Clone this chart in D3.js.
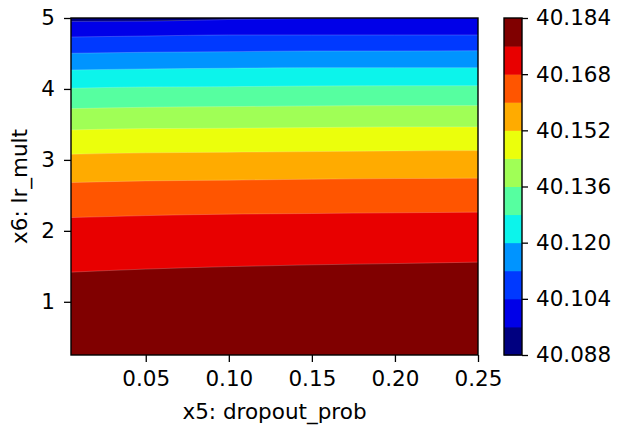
<!DOCTYPE html>
<html>
<head>
<meta charset="utf-8">
<script src="https://cdn.jsdelivr.net/npm/d3@7"></script>
<style>
  html, body { margin: 0; padding: 0; background: #fff; }
  svg { display: block; }
  svg text { font-family: "DejaVu Sans", sans-serif; font-size: 21.5px; fill: #000; }
  .tick line { stroke: #000; stroke-width: 1.3px; }
</style>
</head>
<body>
<svg id="chart" width="618" height="430"></svg>
<script>
// ---------------- data ----------------
const xValues = [0.005, 0.05, 0.10, 0.15, 0.20, 0.25];
const levels = [40.088, 40.096, 40.104, 40.112, 40.120, 40.128, 40.136, 40.144, 40.152, 40.160, 40.168, 40.176, 40.184];
// y position (x6: lr_mult) of each contour level along xValues
const level40096 = [4.951, 4.955, 4.979, 4.993, 5.003, 5.010];
const level40104 = [4.732, 4.746, 4.761, 4.761, 4.761, 4.761];
const level40112 = [4.503, 4.517, 4.525, 4.535, 4.535, 4.539];
const level40120 = [4.268, 4.282, 4.292, 4.300, 4.300, 4.300];
const level40128 = [4.010, 4.028, 4.032, 4.042, 4.046, 4.046];
const level40136 = [3.723, 3.742, 3.751, 3.761, 3.765, 3.765];
const level40144 = [3.423, 3.441, 3.446, 3.455, 3.465, 3.465];
const level40152 = [3.080, 3.099, 3.108, 3.117, 3.127, 3.131];
const level40160 = [2.680, 2.704, 2.714, 2.728, 2.737, 2.742];
const level40168 = [2.187, 2.215, 2.235, 2.244, 2.254, 2.263];
const level40176 = [1.418, 1.461, 1.496, 1.521, 1.539, 1.559];
const contourLines = [level40096, level40104, level40112, level40120, level40128, level40136,
                      level40144, level40152, level40160, level40168, level40176];
const xTicks = [0.05, 0.10, 0.15, 0.20, 0.25];
const yTicks = [1, 2, 3, 4, 5];
const cbTicks = [40.088, 40.104, 40.120, 40.136, 40.152, 40.168, 40.184];
const xDomain = [0.005, 0.25];
const yDomain = [0.25, 5];

// ---------------- jet colormap (matplotlib) ----------------
const jetSeg = {
  r: [[0, 0], [0.35, 0], [0.66, 1], [0.89, 1], [1, 0.5]],
  g: [[0, 0], [0.125, 0], [0.375, 1], [0.64, 1], [0.91, 0], [1, 0]],
  b: [[0, 0.5], [0.11, 1], [0.34, 1], [0.65, 0], [1, 0]]
};
function segVal(seg, x) {
  for (let i = 1; i < seg.length; i++) {
    if (x <= seg[i][0]) {
      const [x0, v0] = seg[i - 1], [x1, v1] = seg[i];
      return v0 + (v1 - v0) * (x - x0) / (x1 - x0);
    }
  }
  return seg[seg.length - 1][1];
}
function jet(t) {
  const idx = Math.min(255, Math.floor(t * 256));
  const x = idx / 255;
  const c = v => Math.round(v * 255);
  return d3.rgb(c(segVal(jetSeg.r, x)), c(segVal(jetSeg.g, x)), c(segVal(jetSeg.b, x))).formatHex();
}
const nBands = levels.length - 1;
const bandColor = i => jet(i / (nBands - 1));

// ---------------- layout ----------------
const svg = d3.select("#chart");
const plot = { left: 71, right: 478, top: 18, bottom: 355 };
const cb = { left: 504, right: 522, top: 18, bottom: 355 };

const x = d3.scaleLinear().domain(xDomain).range([plot.left, plot.right]);
const y = d3.scaleLinear().domain(yDomain).range([plot.bottom, plot.top]);

svg.append("clipPath").attr("id", "clip")
  .append("rect").attr("x", plot.left).attr("y", plot.top)
  .attr("width", plot.right - plot.left).attr("height", plot.bottom - plot.top);

const g = svg.append("g").attr("clip-path", "url(#clip)");

// base: highest band
g.append("rect").attr("x", plot.left).attr("y", plot.top)
  .attr("width", plot.right - plot.left).attr("height", plot.bottom - plot.top)
  .attr("fill", bandColor(nBands - 1));

// paint regions above each contour line (lower values), from high to low
const lineGen = d3.line().x(d => x(d[0])).y(d => y(d[1])).curve(d3.curveMonotoneX);
for (let k = contourLines.length - 1; k >= 0; k--) {
  const line = contourLines[k];
  const pts = xValues.map((xv, i) => [xv, line[i]]);
  const area = d3.area()
    .x(d => x(d[0]))
    .y0(d => y(d[1]))
    .y1(() => y(yDomain[1]) - 5)
    .curve(d3.curveMonotoneX);
  // band just below this contour level
  g.append("path").datum(pts).attr("d", area).attr("fill", bandColor(k));
}
// faint antialias seams between bands
for (const line of contourLines) {
  const pts = xValues.map((xv, i) => [xv, line[i]]);
  g.append("path").datum(pts).attr("d", lineGen).attr("fill", "none")
    .attr("stroke", "rgba(255,255,255,0.25)").attr("stroke-width", 0.8);
}

// axes
const xAxis = svg.append("g").attr("transform", `translate(0,${plot.bottom})`)
  .call(d3.axisBottom(x).tickValues(xTicks).tickFormat(d3.format(".2f")).tickSize(7).tickPadding(9));
xAxis.select(".domain").remove();

const yAxis = svg.append("g").attr("transform", `translate(${plot.left},0)`)
  .call(d3.axisLeft(y).tickValues(yTicks).tickFormat(d3.format("d")).tickSize(7).tickPadding(9));
yAxis.select(".domain").remove();

svg.append("rect").attr("x", plot.left).attr("y", plot.top)
  .attr("width", plot.right - plot.left).attr("height", plot.bottom - plot.top)
  .attr("fill", "none").attr("stroke", "#000").attr("stroke-width", 1.4);

svg.append("text").attr("x", (plot.left + plot.right) / 2).attr("y", 419)
  .attr("text-anchor", "middle").text("x5: dropout_prob");
svg.append("text").attr("transform", `translate(27,${(plot.top + plot.bottom) / 2}) rotate(-90)`)
  .attr("text-anchor", "middle").text("x6: lr_mult");

// colorbar
const cy = d3.scaleLinear().domain([levels[0], levels[levels.length - 1]]).range([cb.bottom, cb.top]);
svg.append("g").selectAll("rect").data(d3.range(nBands)).join("rect")
  .attr("x", cb.left).attr("width", cb.right - cb.left)
  .attr("y", i => cy(levels[i + 1])).attr("height", i => cy(levels[i]) - cy(levels[i + 1]) + 0.5)
  .attr("fill", i => bandColor(i));
svg.append("rect").attr("x", cb.left).attr("y", cb.top)
  .attr("width", cb.right - cb.left).attr("height", cb.bottom - cb.top)
  .attr("fill", "none").attr("stroke", "#000").attr("stroke-width", 1.4);
const cAxis = svg.append("g").attr("transform", `translate(${cb.right},0)`)
  .call(d3.axisRight(cy).tickValues(cbTicks).tickFormat(d3.format(".3f")).tickSize(6).tickPadding(8));
cAxis.select(".domain").remove();
</script>
</body>
</html>
